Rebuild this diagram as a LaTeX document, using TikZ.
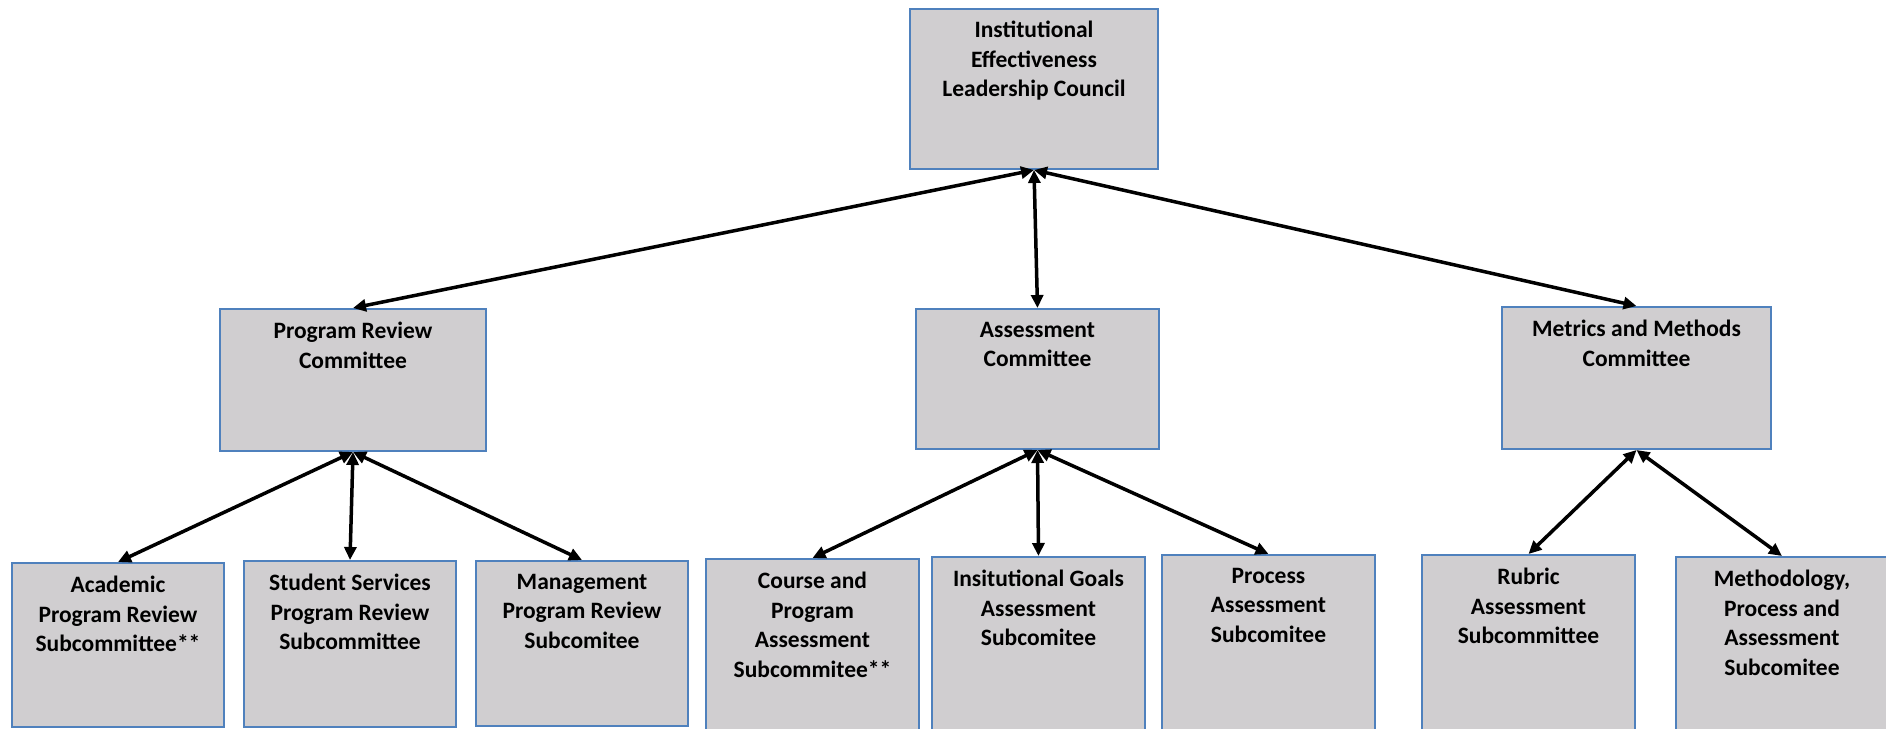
\documentclass[tikz,border=0pt]{standalone}
\usepackage{fontspec}
\setmainfont{Carlito}
\usetikzlibrary{arrows.meta}
\usetikzlibrary{positioning}
\definecolor{boxgray}{RGB}{208,206,208}
\definecolor{boxblue}{RGB}{79,129,189}

\begin{document}
\begin{tikzpicture}[x=1pt, y=-1pt,
    unit/.style={rectangle, draw=boxblue, fill=boxgray, line width=2pt, inner sep=0pt},
    caption/.style={align=center, inner sep=0pt, font=\bfseries\fontsize{23.5}{29.5}\selectfont},
    link/.style={{Triangle[length=13pt,width=12pt]}-{Triangle[length=13pt,width=12pt]}, line width=3.5pt}]
    \useasboundingbox (0,0) rectangle (1886,728);

    % council
    \node[unit, minimum width=248pt, minimum height=160pt] (iel) at (1034,89) {};
    \node[caption, below=13pt of iel.north] (iel-t) {Institutional\\Effectiveness\\Leadership Council};

    % committees
    \node[unit, minimum width=266pt, minimum height=142pt] (prc) at (353,380) {};
    \node[unit, minimum width=243pt, minimum height=140pt] (asc) at (1037.5,379) {};
    \node[unit, minimum width=269pt, minimum height=142pt] (mmc) at (1636.5,378) {};
    \node[caption, below=14pt of prc.north] (prc-t) {Program Review\\Committee};
    \node[caption, below=14pt of asc.north] (asc-t) {Assessment\\Committee};
    \node[caption, below=14pt of mmc.north] (mmc-t) {Metrics and Methods\\Committee};

    % subcommittees
    \node[unit, minimum width=212pt, minimum height=164pt] (aprs) at (118,645) {};
    \node[unit, minimum width=212pt, minimum height=166pt] (ssprs) at (350,644) {};
    \node[unit, minimum width=212pt, minimum height=165pt] (mprs) at (582,643.5) {};
    \node[unit, minimum width=213pt, minimum height=176pt] (cpas) at (812.5,647) {};
    \node[unit, minimum width=213pt, minimum height=178pt] (igas) at (1038.5,646) {};
    \node[unit, minimum width=213pt, minimum height=180pt] (pas) at (1268.5,645) {};
    \node[unit, minimum width=213pt, minimum height=180pt] (ras) at (1528.5,645) {};
    \node[unit, minimum width=212pt, minimum height=178pt] (mpas) at (1782,646) {};
    \node[caption, below=14pt of aprs.north] (aprs-t) {Academic\\Program Review\\Subcommittee**};
    \node[caption, below=14pt of ssprs.north] (ssprs-t) {Student Services\\Program Review\\Subcommittee};
    \node[caption, below=14pt of mprs.north] (mprs-t) {Management\\Program Review\\Subcomitee};
    \node[caption, below=14pt of cpas.north] (cpas-t) {Course and\\Program\\Assessment\\Subcommitee**};
    \node[caption, below=14pt of igas.north] (igas-t) {Insitutional Goals\\Assessment\\Subcomitee};
    \node[caption, below=14pt of pas.north] (pas-t) {Process\\Assessment\\Subcomitee};
    \node[caption, below=14pt of ras.north] (ras-t) {Rubric\\Assessment\\Subcommittee};
    \node[caption, below=14pt of mpas.north] (mpas-t) {Methodology,\\Process and\\Assessment\\Subcomitee};

    \draw[link] (iel.south) -- (prc.north);
    \draw[link] (iel.south) -- (asc.north);
    \draw[link] (iel.south) -- (mmc.north);
    \draw[link] (prc.south) -- (aprs.north);
    \draw[link] (prc.south) -- (ssprs.north);
    \draw[link] (prc.south) -- (mprs.north);
    \draw[link] (asc.south) -- (cpas.north);
    \draw[link] (asc.south) -- (igas.north);
    \draw[link] (asc.south) -- (pas.north);
    \draw[link] (mmc.south) -- (ras.north);
    \draw[link] (mmc.south) -- (mpas.north);
\end{tikzpicture}
\end{document}
